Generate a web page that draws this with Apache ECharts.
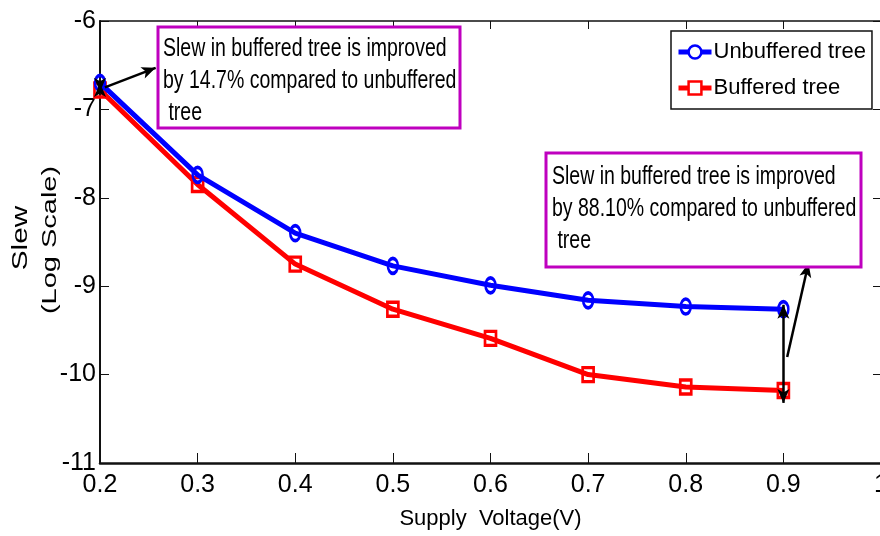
<!DOCTYPE html>
<html>
<head>
<meta charset="utf-8">
<script src="https://cdn.jsdelivr.net/npm/echarts@6/dist/echarts.min.js"></script>
<style>html,body{margin:0;padding:0;background:#fff}#c{width:880px;height:536px}</style>
</head>
<body>
<div id="c"></div>
<script>
const voltages = [0.2, 0.3, 0.4, 0.5, 0.6, 0.7, 0.8, 0.9];
const unbuffered = [-6.70, -7.74, -8.40, -8.77, -8.99, -9.16, -9.23, -9.26];
const buffered = [-6.78, -7.85, -8.75, -9.26, -9.59, -10.00, -10.14, -10.18];
const xTicks = [0.2, 0.3, 0.4, 0.5, 0.6, 0.7, 0.8, 0.9, 1];
const yTicks = [-11, -10, -9, -8, -7, -6];
const seriesNames = ['Unbuffered tree', 'Buffered tree'];
const seriesColors = ['#0000ff', '#ff0000'];
const note1 = ['Slew in buffered tree is improved', 'by 14.7% compared to unbuffered', ' tree'];
const note2 = ['Slew in buffered tree is improved', 'by 88.10% compared to unbuffered', ' tree'];

const FONT = '"Liberation Sans", Arial, Helvetica, sans-serif';
const chart = echarts.init(document.getElementById('c'), null, {renderer: 'canvas'});

function pairs(xs, ys) { return xs.map((x, i) => [x, ys[i]]); }

const arrowLine = {color: '#000', width: 2.5, type: 'solid'};

const option = {
  animation: false,
  backgroundColor: '#fff',
  grid: {left: 100, top: 21, width: 781, height: 442, containLabel: false, outerBoundsMode: 'none'},
  xAxis: [{
    type: 'value', min: xTicks[0], max: xTicks[xTicks.length - 1], interval: 0.1,
    position: 'bottom',
    axisLine: {lineStyle: {color: '#111', width: 2.5}},
    axisTick: {inside: true, length: 10, lineStyle: {color: '#111', width: 1}},
    splitLine: {show: false},
    axisLabel: {color: '#000', fontSize: 25, fontFamily: FONT, margin: 10,
      formatter: v => String(parseFloat(v.toFixed(1)))},
    name: 'Supply  Voltage(V)', nameLocation: 'middle', nameGap: 45,
    nameTextStyle: {color: '#000', fontSize: 22, fontFamily: FONT}
  }, {
    type: 'value', min: xTicks[0], max: xTicks[xTicks.length - 1], interval: 0.1,
    position: 'top',
    axisLine: {lineStyle: {color: '#111', width: 1.5}},
    axisTick: {inside: true, length: 8, lineStyle: {color: '#111', width: 1}},
    splitLine: {show: false}, axisLabel: {show: false}
  }],
  yAxis: [{
    type: 'value', min: yTicks[0], max: yTicks[yTicks.length - 1], interval: 1,
    position: 'left',
    axisLine: {show: true, lineStyle: {color: '#111', width: 2}},
    axisTick: {show: true, inside: true, length: 9, lineStyle: {color: '#111', width: 1}},
    splitLine: {show: false},
    axisLabel: {color: '#000', fontSize: 25, fontFamily: FONT, margin: 4}
  }, {
    type: 'value', min: yTicks[0], max: yTicks[yTicks.length - 1], interval: 1,
    position: 'right',
    axisLine: {show: true, lineStyle: {color: '#111', width: 1.5}},
    axisTick: {show: true, inside: true, length: 8, lineStyle: {color: '#111', width: 1}},
    splitLine: {show: false}, axisLabel: {show: false}
  }],
  legend: {
    orient: 'vertical', left: 671, top: 31,
    padding: [10, 6, 10, 5], itemGap: 14,
    backgroundColor: '#fff', borderColor: '#111', borderWidth: 1.5,
    itemWidth: 33, itemHeight: 16,
    textStyle: {color: '#000', fontSize: 22, fontFamily: FONT, padding: [0, 0, 0, -3]},
    data: seriesNames.map((n, i) => ({
      name: n,
      lineStyle: {width: 5, color: seriesColors[i]},
      itemStyle: {color: '#fff', borderColor: seriesColors[i], borderWidth: 2.5}
    }))
  },
  series: [{
    name: seriesNames[0], type: 'line', data: pairs(voltages, unbuffered),
    lineStyle: {color: seriesColors[0], width: 5},
    symbol: 'circle', symbolSize: [10, 15],
    itemStyle: {color: 'rgba(0,0,0,0)', borderColor: seriesColors[0], borderWidth: 3},
    z: 3
  }, {
    name: seriesNames[1], type: 'line', data: pairs(voltages, buffered),
    lineStyle: {color: seriesColors[1], width: 5},
    symbol: 'rect', symbolSize: [11, 14],
    itemStyle: {color: 'rgba(0,0,0,0)', borderColor: seriesColors[1], borderWidth: 3},
    z: 2,
    markLine: {
      silent: true, symbol: ['arrow', 'arrow'], symbolSize: [9, 14],
      label: {show: false},
      lineStyle: arrowLine,
      data: [
        [{coord: [0.2, -6.70], symbol: 'arrow'}, {coord: [0.2, -6.80], symbol: 'arrow'}],
        [{coord: [0.205, -6.75], symbol: 'none'}, {coord: [0.257, -6.53], symbol: 'arrow'}],
        [{coord: [0.9, -9.21], symbol: 'arrow'}, {coord: [0.9, -10.32], symbol: 'arrow'}],
        [{coord: [0.9039, -9.80], symbol: 'none'}, {coord: [0.9257, -8.74], symbol: 'arrow'}]
      ]
    }
  }],
  graphic: [
    {type: 'rect', shape: {x: 158, y: 27, width: 302, height: 101},
      style: {fill: '#fff', stroke: '#bf00bf', lineWidth: 3}, z: 100},
    {type: 'text', x: 163, y: 33, scaleX: 0.78, z: 101,
      style: {text: note1.join('\n'), font: '25px ' + FONT,
        fill: '#000', lineHeight: 32, verticalAlign: 'top', align: 'left'}},
    {type: 'rect', shape: {x: 546, y: 153, width: 315, height: 114},
      style: {fill: '#fff', stroke: '#bf00bf', lineWidth: 3}, z: 100},
    {type: 'text', x: 552, y: 161, scaleX: 0.78, z: 101,
      style: {text: note2.join('\n'), font: '25px ' + FONT,
        fill: '#000', lineHeight: 32, verticalAlign: 'top', align: 'left'}},
    {type: 'text', x: 21, y: 238, rotation: Math.PI / 2, scaleX: 1.35, z: 101,
      style: {text: 'Slew', font: '22px ' + FONT,
        fill: '#000', align: 'center', verticalAlign: 'middle'}},
    {type: 'text', x: 50, y: 240, rotation: Math.PI / 2, scaleX: 1.38, z: 101,
      style: {text: '(Log Scale)', font: '21px ' + FONT,
        fill: '#000', align: 'center', verticalAlign: 'middle'}}
  ]
};
chart.setOption(option);
</script>
</body>
</html>
